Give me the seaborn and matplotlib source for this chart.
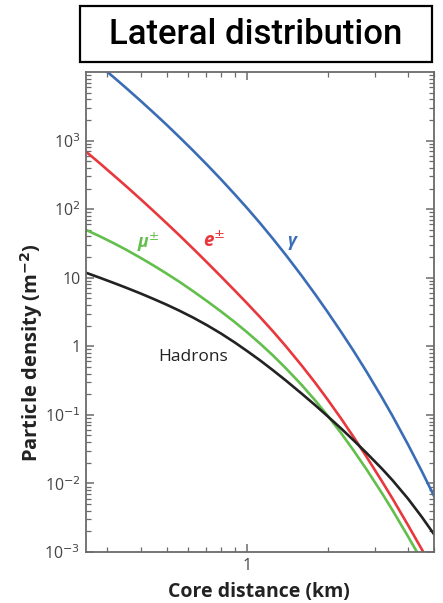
import numpy as np
import pandas as pd
import matplotlib
matplotlib.use("Agg")
import matplotlib.pyplot as plt
from matplotlib.patches import Rectangle
from matplotlib.ticker import FixedLocator, NullFormatter, LogLocator
import seaborn as sns

# Core distance (km) and particle densities (m^-2) per shower component
distance = [0.25, 0.28, 0.32, 0.35, 0.4, 0.45, 0.5, 0.56, 0.63, 0.71, 0.8, 0.9, 1.0,
            1.12, 1.25, 1.4, 1.6, 1.8, 2.0, 2.25, 2.5, 2.8, 3.2, 3.5, 4.0, 4.5, 5.0]
gamma = [np.nan, 12650, 8150, 6030, 3796, 2497, 1704, 1113, 708, 441, 270.6, 164.2, 103.8,
         62.1, 36.95, 21.19, 10.69, 5.69, 3.17, 1.61, 0.860, 0.424, 0.1773, 0.0961, 0.0368,
         0.0151, 0.00656]
electrons = [689, 475.2, 302.2, 222.8, 139.8, 91.7, 62.5, 41.15, 26.34, 16.59, 10.38, 6.49,
             4.24, 2.65, 1.653, 0.990, 0.5254, 0.2922, 0.1676, 0.0877, 0.0478, 0.0243,
             0.01062, 0.00599, 0.002455, 0.001095, 0.000522]
muons = [49.8, 40.6, 31.36, 26.08, 19.49, 14.85, 11.51, 8.66, 6.32, 4.53, 3.21, 2.25, 1.604,
         1.091, 0.7347, 0.4736, 0.2733, 0.1615, 0.0977, 0.0538, 0.0304, 0.01594, 0.00713,
         0.00406, 0.00168, 0.000754, 0.000361]
hadrons = [11.82, 10.07, 8.29, 7.25, 5.89, 4.85, 4.05, 3.29, 2.61, 2.02, 1.531, 1.136, 0.854,
           0.6216, 0.4473, 0.3147, 0.2042, 0.1379, 0.0957, 0.0630, 0.0427, 0.0277, 0.01626,
           0.01110, 0.00597, 0.00325, 0.001816]

series_names = ["gamma", "electrons", "muons", "hadrons"]
series_colors = ["#3b6db6", "#e8383d", "#62bf4c", "#222222"]

y_ticks = [1e-3, 1e-2, 1e-1, 1, 10, 1e2, 1e3]
y_tick_labels = ["10$^{-3}$", "10$^{-2}$", "10$^{-1}$", "1", "10", "10$^{2}$", "10$^{3}$"]
x_ticks = [1]
x_tick_labels = ["1"]

frames = []
for name, vals in zip(series_names, [gamma, electrons, muons, hadrons]):
    frames.append(pd.DataFrame({"distance": distance, "density": vals, "component": name}))
df = pd.concat(frames, ignore_index=True).dropna()

sns.set_theme(style="ticks")
plt.rcParams["font.family"] = ["Open Sans", "DejaVu Sans"]
plt.rcParams["mathtext.fontset"] = "dejavusans"

W, H = 443, 603
fig = plt.figure(figsize=(W / 100, H / 100), dpi=100)
ax = fig.add_axes([86 / W, 1 - 552 / H, (434 - 86) / W, (552 - 72) / H])

sns.lineplot(data=df, x="distance", y="density", hue="component",
             hue_order=series_names, palette=series_colors,
             linewidth=1.9, legend=False, ax=ax, sort=False)

ax.set_xscale("log")
ax.set_yscale("log")
ax.set_xlim(0.25, 5.0)
ax.set_ylim(1e-3, 1e4)

spine_color = "#6b6b6b"
for s in ax.spines.values():
    s.set_color(spine_color)
    s.set_linewidth(1.3)
    s.set_visible(True)

ax.xaxis.set_major_locator(FixedLocator(x_ticks))
ax.set_xticklabels(x_tick_labels)
ax.xaxis.set_minor_locator(LogLocator(base=10, subs=np.arange(2, 10)))
ax.xaxis.set_minor_formatter(NullFormatter())
ax.yaxis.set_major_locator(FixedLocator(y_ticks))
ax.set_yticklabels(y_tick_labels)
ax.yaxis.set_minor_locator(LogLocator(base=10, subs=np.arange(2, 10), numticks=20))
ax.yaxis.set_minor_formatter(NullFormatter())

ax.tick_params(which="both", direction="in", top=True, right=True,
               color=spine_color, labelcolor="#444444", labelsize=11.5, pad=4)
ax.tick_params(which="major", length=6, width=1.1)
ax.tick_params(which="minor", length=3.5, width=0.9)

ax.set_xlabel("")
ax.set_ylabel("")
fig.text(259 / W, 1 - 592 / H, "Core distance (km)", ha="center", va="center",
         fontsize=14, fontweight="bold", color="#222222")
fig.text(32 / W, 1 - 353 / H, "Particle density (m$^{\\mathbf{-2}}$)", ha="center", va="center",
         rotation=90, fontsize=14.5, fontweight="bold", color="#222222")

# Component labels
ax.text(1.476, 33.8, "γ", color=series_colors[0], fontsize=12.5, fontweight="bold",
        style="italic", ha="center", va="center")
ax.text(0.751, 33.7, "e$^{\\pm}$", color=series_colors[1], fontsize=13.5, fontweight="bold",
        style="italic", ha="center", va="center")
ax.text(0.428, 32.6, "μ$^{\\pm}$", color=series_colors[2], fontsize=12.5, fontweight="bold",
        style="italic", ha="center", va="center")
ax.text(0.627, 0.69, "Hadrons", color="#222222", fontsize=12.5, ha="center", va="center")

# Boxed heading
fig.patches.append(Rectangle((80 / W, 1 - 62 / H), 352 / W, 56 / H, transform=fig.transFigure,
                             fill=False, edgecolor="black", linewidth=1.6))
fig.text(256 / W, 1 - 34 / H, "Lateral distribution", ha="center", va="center",
         fontsize=25, fontweight="medium", color="black", family=["Roboto", "DejaVu Sans"])

fig.savefig("out.png", dpi=100)
